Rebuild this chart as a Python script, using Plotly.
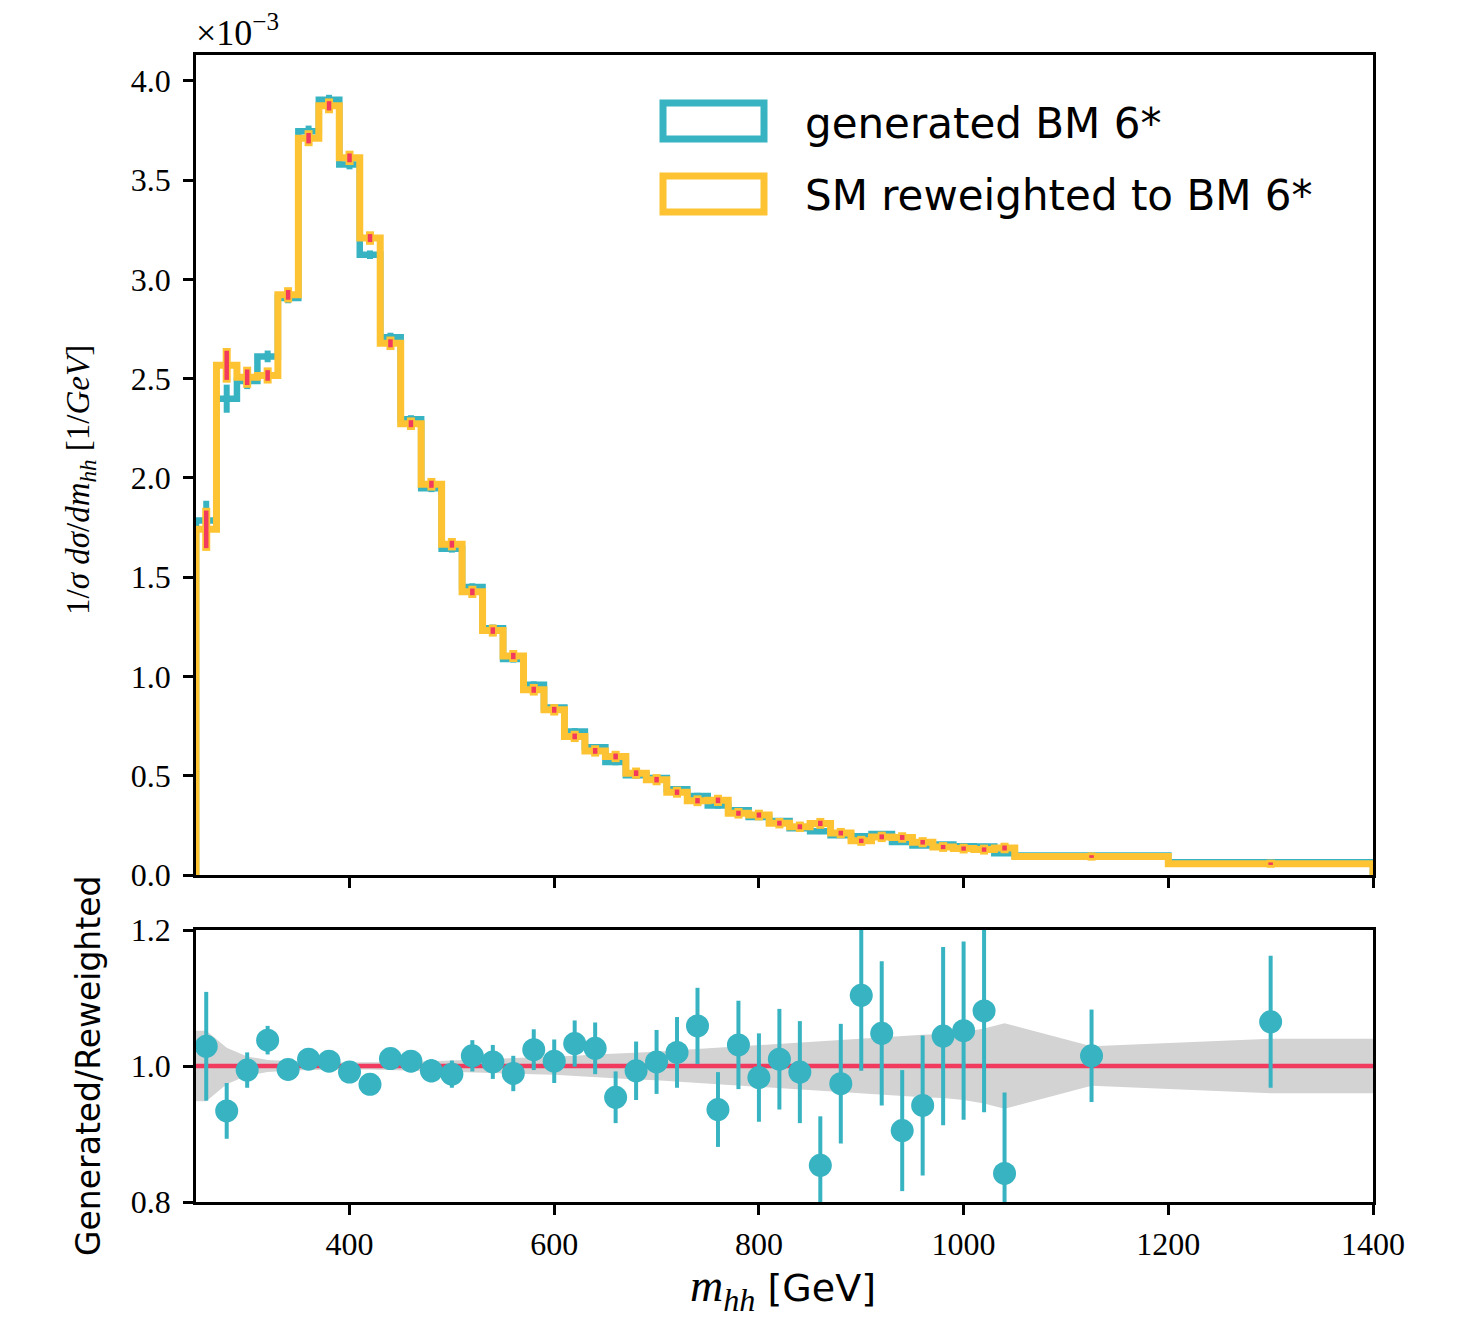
import plotly.graph_objects as go

# ---------------- data ----------------
# bin edges of the m_hh histogram [GeV]
bin_edges = [250, 270, 290, 310, 330, 350, 370, 390, 410, 430, 450, 470, 490, 510,
             530, 550, 570, 590, 610, 630, 650, 670, 690, 710, 730, 750, 770, 790,
             810, 830, 850, 870, 890, 910, 930, 950, 970, 990, 1010, 1030, 1050,
             1200, 1400]
# bin centres [GeV]
bin_centers = [260, 280, 300, 320, 340, 360, 380, 400, 420, 440, 460, 480, 500, 520,
               540, 560, 580, 600, 620, 640, 660, 680, 700, 720, 740, 760, 780, 800,
               820, 840, 860, 880, 900, 920, 940, 960, 980, 1000, 1020, 1040,
               1125, 1300]

# normalised distributions, in units of 1e-3 / GeV
generated_bm6 = [1.786, 2.399, 2.488, 2.612, 2.906, 3.746, 3.904, 3.578, 3.124, 2.709,
                 2.296, 1.948, 1.643, 1.450, 1.243, 1.088, 0.958, 0.843, 0.723, 0.643,
                 0.569, 0.503, 0.488, 0.432, 0.398, 0.350, 0.326, 0.292, 0.272, 0.236,
                 0.220, 0.200, 0.195, 0.206, 0.166, 0.149, 0.153, 0.145, 0.143, 0.110,
                 0.098, 0.064]
reweighted_bm6 = [1.741, 2.567, 2.507, 2.516, 2.922, 3.711, 3.874, 3.612, 3.208, 2.678,
                  2.273, 1.968, 1.666, 1.426, 1.231, 1.103, 0.933, 0.832, 0.698, 0.625,
                  0.597, 0.513, 0.480, 0.417, 0.374, 0.376, 0.311, 0.302, 0.261, 0.243,
                  0.260, 0.211, 0.172, 0.192, 0.189, 0.165, 0.141, 0.133, 0.128, 0.136,
                  0.093, 0.057]
# relative statistical uncertainty of the reweighted sample (grey band)
rel_unc_reweighted = [0.052, 0.027, 0.014, 0.009, 0.007, 0.006, 0.005, 0.005, 0.005, 0.006,
                      0.006, 0.007, 0.008, 0.009, 0.010, 0.011, 0.012, 0.013, 0.015, 0.017,
                      0.018, 0.020, 0.021, 0.023, 0.025, 0.027, 0.028, 0.030, 0.032, 0.034,
                      0.036, 0.038, 0.041, 0.043, 0.044, 0.046, 0.047, 0.050, 0.055, 0.063,
                      0.029, 0.040]
# ratio generated / reweighted
ratio = [1.029, 0.934, 0.994, 1.038, 0.995, 1.010, 1.007, 0.991, 0.973, 1.011,
         1.007, 0.993, 0.988, 1.015, 1.006, 0.989, 1.024, 1.007, 1.033, 1.026,
         0.954, 0.993, 1.006, 1.020, 1.059, 0.936, 1.031, 0.983, 1.010, 0.991,
         0.854, 0.974, 1.104, 1.048, 0.905, 0.942, 1.044, 1.052, 1.081, 0.842,
         1.015, 1.065]
ratio_err = [0.080, 0.041, 0.026, 0.021, 0.014, 0.013, 0.013, 0.014, 0.015, 0.015,
             0.016, 0.017, 0.020, 0.023, 0.025, 0.026, 0.030, 0.032, 0.034, 0.038,
             0.038, 0.043, 0.047, 0.052, 0.056, 0.055, 0.065, 0.065, 0.074, 0.075,
             0.072, 0.088, 0.111, 0.106, 0.089, 0.103, 0.131, 0.131, 0.149, 0.119,
             0.068, 0.097]

x_ticks = [400, 600, 800, 1000, 1200, 1400]
y_ticks_top = [0.0, 0.5, 1.0, 1.5, 2.0, 2.5, 3.0, 3.5, 4.0]
y_ticks_ratio = [0.8, 1.0, 1.2]

# ---------------- style ----------------
TEAL = "#37B3C2"
YELLOW = "#FEC332"
RED = "#F2395E"
GREY = "#D3D3D3"
SERIF = "Liberation Serif"
SANS = "DejaVu Sans"

OFF = 8                       # page body margin of the browser
W, H = 1459 - OFF, 1323 - OFF
# plot area in page pixels: x 196..1373, y 55..1202
ML, MT = 196 - OFF, 55 - OFF
MR = W - (1373 - OFF)
MB = H - (1202 - OFF)
PW, PH = W - ML - MR, H - MT - MB


def px_x(p):
    # page pixel -> paper x
    return (p - OFF - ML) / PW


def px_y(p):
    # page pixel -> paper y
    return (H - MB - (p - OFF)) / PH


top_dom = [px_y(875), 1.0]
bot_dom = [0.0, px_y(930)]


def step_xy(edges, vals):
    xs = [edges[0], edges[0]] + list(edges[1:-1]) + [edges[-1], edges[-1]]
    ys = [0.0] + list(vals) + [vals[-1], 0.0]
    return xs, ys


fig = go.Figure()

# generated (teal) histogram
gx, gy = step_xy(bin_edges, generated_bm6)
fig.add_trace(go.Scatter(x=gx, y=gy, mode="lines", line=dict(color=TEAL, width=6.5, shape="hv"),
                         xaxis="x", yaxis="y", showlegend=False, hoverinfo="skip"))
fig.add_trace(go.Scatter(x=bin_centers, y=generated_bm6, mode="markers",
                         marker=dict(size=1, color="rgba(0,0,0,0)"),
                         error_y=dict(type="data", array=[v * r + 0.006 for v, r in zip(generated_bm6, rel_unc_reweighted)],
                                      thickness=6, width=0, color=TEAL),
                         xaxis="x", yaxis="y", showlegend=False, hoverinfo="skip"))

# reweighted (yellow) histogram
rx, ry = step_xy(bin_edges, reweighted_bm6)
fig.add_trace(go.Scatter(x=rx, y=ry, mode="lines", line=dict(color=YELLOW, width=7, shape="hv"),
                         xaxis="x", yaxis="y", showlegend=False, hoverinfo="skip"))
fig.add_trace(go.Scatter(x=bin_centers, y=reweighted_bm6, mode="markers",
                         marker=dict(size=1, color="rgba(0,0,0,0)"),
                         error_y=dict(type="data", array=[v * r + 0.018 for v, r in zip(reweighted_bm6, rel_unc_reweighted)],
                                      thickness=8, width=0, color=YELLOW),
                         xaxis="x", yaxis="y", showlegend=False, hoverinfo="skip"))
fig.add_trace(go.Scatter(x=bin_centers, y=reweighted_bm6, mode="markers",
                         marker=dict(size=1, color="rgba(0,0,0,0)"),
                         error_y=dict(type="data", array=[v * r + 0.004 for v, r in zip(reweighted_bm6, rel_unc_reweighted)],
                                      thickness=4.5, width=0, color=RED),
                         xaxis="x", yaxis="y", showlegend=False, hoverinfo="skip"))

# ratio panel: uncertainty band
band_x = [bin_edges[0]] + bin_centers + [bin_edges[-1]]
band_r = [rel_unc_reweighted[0]] + rel_unc_reweighted + [rel_unc_reweighted[-1]]
upper = [1 + r for r in band_r]
lower = [1 - r for r in band_r]
fig.add_trace(go.Scatter(x=band_x + band_x[::-1], y=upper + lower[::-1], fill="toself",
                         fillcolor=GREY, line=dict(width=0), mode="lines",
                         xaxis="x2", yaxis="y2", showlegend=False, hoverinfo="skip"))
fig.add_trace(go.Scatter(x=[bin_edges[0], bin_edges[-1]], y=[1, 1], mode="lines",
                         line=dict(color=RED, width=4.5),
                         xaxis="x2", yaxis="y2", showlegend=False, hoverinfo="skip"))
fig.add_trace(go.Scatter(x=bin_centers, y=ratio, mode="markers",
                         marker=dict(size=23, color=TEAL),
                         error_y=dict(type="data", array=ratio_err, thickness=4, width=0, color=TEAL),
                         xaxis="x2", yaxis="y2", showlegend=False, hoverinfo="skip"))

axis_common = dict(showline=True, linewidth=2.5, linecolor="black", mirror=True,
                   ticks="outside", ticklen=10, tickwidth=2.5, tickcolor="black",
                   showgrid=False, zeroline=False,
                   tickfont=dict(family=SERIF, size=32, color="black"))

fig.update_layout(
    width=W, height=H,
    margin=dict(l=ML, r=MR, t=MT, b=MB, pad=0),
    paper_bgcolor="white", plot_bgcolor="white",
    xaxis=dict(domain=[0, 1], anchor="y", range=[250, 1400], tickvals=x_ticks,
               showticklabels=False, **axis_common),
    yaxis=dict(domain=top_dom, anchor="x", range=[0, 4.13], tickvals=y_ticks_top,
               ticktext=[f"{v:.1f}" for v in y_ticks_top], ticklabelstandoff=6, **axis_common),
    xaxis2=dict(domain=[0, 1], anchor="y2", range=[250, 1400], tickvals=x_ticks,
                ticktext=[str(v) for v in x_ticks], ticklabelstandoff=2, **axis_common),
    yaxis2=dict(domain=bot_dom, anchor="x2", range=[0.8, 1.2], tickvals=y_ticks_ratio,
                ticktext=[f"{v:.1f}" for v in y_ticks_ratio], ticklabelstandoff=6, **axis_common),
)

# legend drawn by hand
legend_items = [("generated BM 6*", TEAL, 103, 139, 124), ("SM reweighted to BM 6*", YELLOW, 176, 212, 195)]
for label, col, y0, y1, yc in legend_items:
    fig.add_shape(type="rect", xref="paper", yref="paper",
                  x0=px_x(663), x1=px_x(764), y0=px_y(y1), y1=px_y(y0),
                  line=dict(color=col, width=7), fillcolor="rgba(0,0,0,0)")
    fig.add_annotation(xref="paper", yref="paper", x=px_x(803), y=px_y(yc), text=label,
                       showarrow=False, xanchor="left", yanchor="middle",
                       font=dict(family=SANS, size=42, color="black"))

# axis titles and exponent
fig.add_annotation(xref="paper", yref="paper", x=px_x(194), y=px_y(30),
                   text="×10<sup>−3</sup>", showarrow=False, xanchor="left", yanchor="middle",
                   font=dict(family=SERIF, size=36, color="black"))
fig.add_annotation(xref="paper", yref="paper", x=px_x(80), y=px_y(480),
                   text="1/<i>σ</i> <i>dσ</i>/<i>dm</i><sub><i>hh</i></sub> [1/<i>GeV</i>]",
                   textangle=-90, showarrow=False, xanchor="center", yanchor="middle",
                   font=dict(family=SERIF, size=33, color="black"))
fig.add_annotation(xref="paper", yref="paper", x=px_x(88), y=px_y(1066),
                   text="Generated/Reweighted", textangle=-90, showarrow=False,
                   xanchor="center", yanchor="middle",
                   font=dict(family=SANS, size=33, color="black"))
fig.add_annotation(xref="paper", yref="paper", x=px_x(783), y=px_y(1289),
                   text="<span style='font-family:Liberation Serif;font-size:46px'><i>m</i><sub><i>hh</i></sub></span> [GeV]",
                   showarrow=False, xanchor="center", yanchor="middle",
                   font=dict(family=SANS, size=38, color="black"))

fig.write_html("out.html")
